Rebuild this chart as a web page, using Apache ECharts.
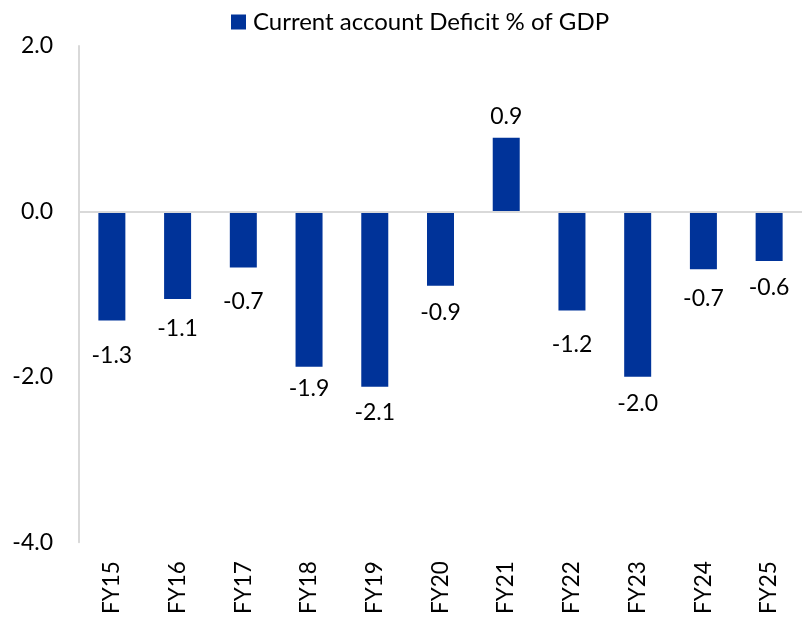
<!DOCTYPE html>
<html>
<head>
<meta charset="utf-8">
<script src="https://cdn.jsdelivr.net/npm/echarts@6/dist/echarts.min.js"></script>
<style>
  html, body { margin: 0; padding: 0; background: #fff; }
  #chart { width: 802px; height: 617px; }
</style>
</head>
<body>
<div id="chart"></div>
<script>
// fiscal years and current account balance (% of GDP)
var years = ['FY15', 'FY16', 'FY17', 'FY18', 'FY19', 'FY20', 'FY21', 'FY22', 'FY23', 'FY24', 'FY25'];
var cad = [-1.32, -1.06, -0.68, -1.88, -2.12, -0.9, 0.89, -1.2, -2.0, -0.7, -0.6];
var seriesName = 'Current account Deficit % of GDP';

// label gap from bar end (px), the source labels were nudged by hand
var labelGap = [24, 18, 22, 10, 14, 15, 10, 22, 15, 18, 15];

var font = 'Lato, "Open Sans", sans-serif';

var chart = echarts.init(document.getElementById('chart'));

var barData = cad.map(function (v, i) {
  return {
    value: v,
    label: { position: v < 0 ? 'bottom' : 'top', distance: labelGap[i] }
  };
});

chart.setOption({
  animation: false,
  legend: {
    data: [seriesName],
    top: 5,
    left: 226,
    itemWidth: 15,
    itemHeight: 15,
    itemGap: 10,
    icon: 'rect',
    textStyle: { fontFamily: font, fontSize: 24, color: '#000', padding: [0, 0, 0, 2] }
  },
  grid: { left: 79, top: 46, width: 731.5, height: 499, containLabel: false },
  xAxis: {
    type: 'category',
    data: years,
    axisLine: { show: false, onZero: false },
    axisTick: { show: false },
    axisLabel: { rotate: 90, margin: 19, fontFamily: font, fontSize: 22.5, color: '#000' }
  },
  yAxis: {
    type: 'value',
    min: -4,
    max: 2,
    interval: 2,
    axisLine: { show: true, lineStyle: { color: '#d9d9d9', width: 2 } },
    axisTick: { show: false },
    splitLine: { show: false },
    axisLabel: {
      margin: 26,
      fontFamily: font,
      fontSize: 23,
      color: '#000',
      formatter: function (v) { return v.toFixed(1); }
    }
  },
  series: [{
    name: seriesName,
    type: 'bar',
    data: barData,
    barWidth: 27,
    itemStyle: { color: '#003399' },
    label: {
      show: true,
      fontFamily: font,
      fontSize: 23,
      color: '#000',
      formatter: function (p) { return p.value.toFixed(1); }
    },
    markLine: {
      silent: true,
      symbol: 'none',
      label: { show: false },
      lineStyle: { color: '#d9d9d9', width: 2, type: 'solid' },
      data: [{ yAxis: 0 }]
    }
  }]
});
</script>
</body>
</html>
